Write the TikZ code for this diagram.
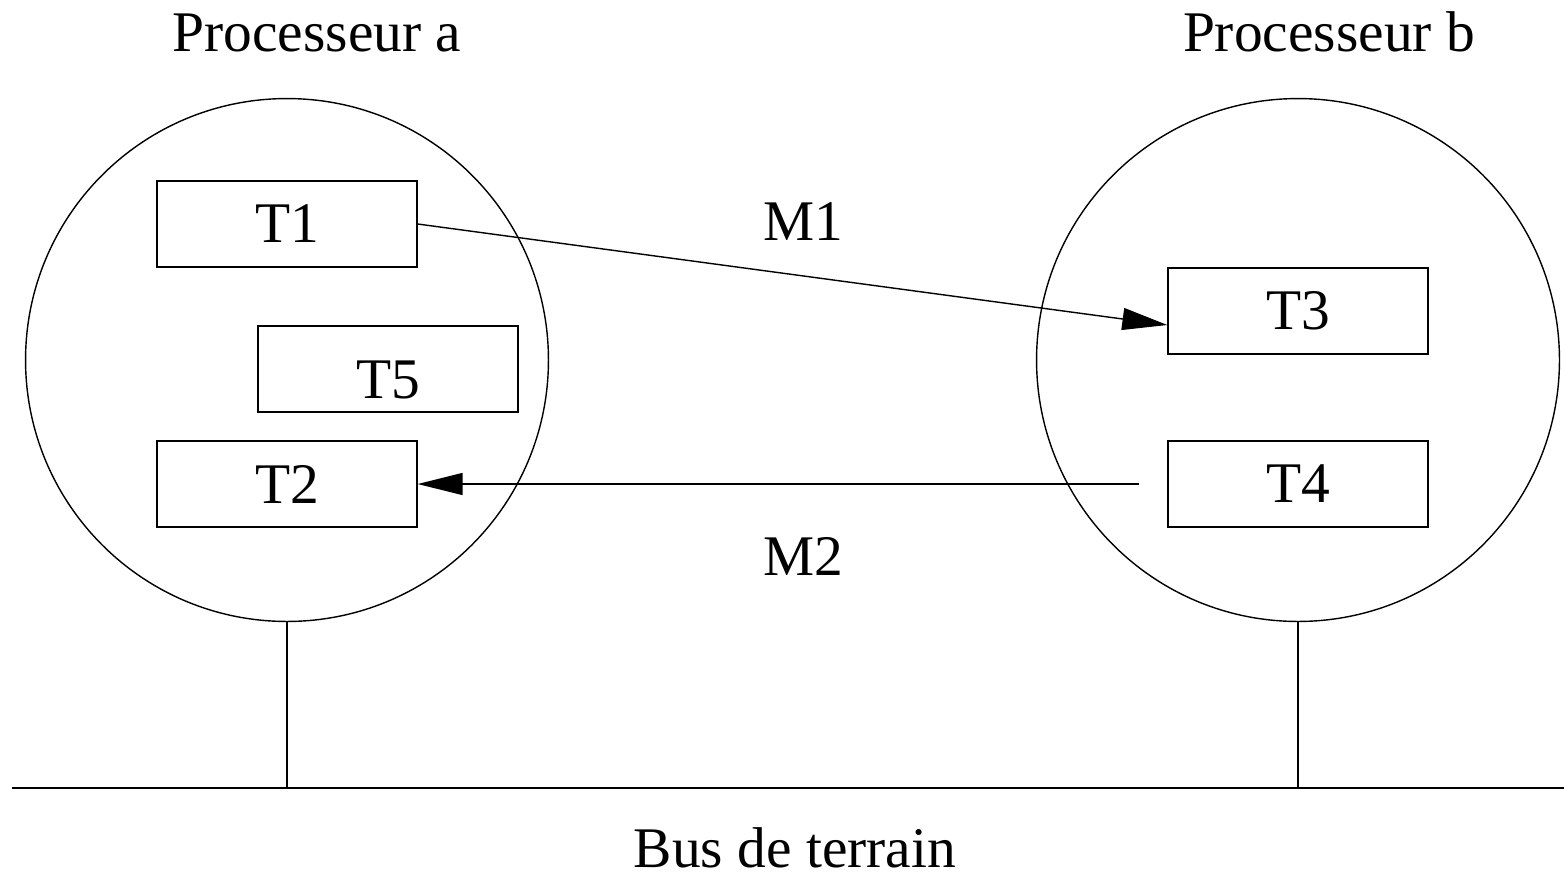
\documentclass[tikz,border=0pt]{standalone}
\usepackage{fontspec}
\setmainfont{Liberation Serif}
\usetikzlibrary{arrows.meta,positioning}

\tikzstyle{task} = [rectangle, minimum width=5.2cm, minimum height=1.72cm, text centered, draw=black, line width=0.8pt]
\tikzstyle{proc} = [circle, minimum size=10.46cm, inner sep=0pt, draw=black, line width=0.8pt]
\tikzstyle{arrow} = [line width=0.8pt, -{Triangle[length=0.9cm,width=0.44cm]}]
\tikzstyle{wire} = [line width=0.8pt]

\begin{document}
\begin{tikzpicture}[x=0.02cm, y=-0.02cm, font=\fontsize{32.7}{39}\selectfont]
	\useasboundingbox (0,0) rectangle (1564,880);

		\node (proca) [proc] at (287,360) {};
		\node (procb) [proc] at (1298,360) {};
		\node (namea) [anchor=base] at (317,51) {Processeur a};
		\node (nameb) [anchor=base] at (1329,51) {Processeur b};

		\node (t1) [task] at (287,224) {T1};
		\node (t5) [task, text height=1.18cm] at (388,369) {T5};
		\node (t2) [task] at (287,484) {T2};
		\node (t3) [task] at (1298,311) {T3};
		\node (t4) [task] at (1298,484) {T4};

		\node (m1) at (803,222) {M1};
		\node (m2) at (803,556) {M2};

		\coordinate (busl) at (12,788);
		\coordinate (busr) at (1564,788);
		\node (bus) [anchor=base] at (795,867) {Bus de terrain};

		\draw [arrow] (t1.east) -- ([yshift=-0.28cm]t3.west);
		\draw [arrow] ([xshift=-0.56cm]t4.west) -- (t2.east);
		\draw [wire] (busl) -- (busr);
		\draw [wire] (proca.south) -- (proca.south |- busl);
		\draw [wire] (procb.south) -- (procb.south |- busl);
		\end{tikzpicture}
\end{document}
